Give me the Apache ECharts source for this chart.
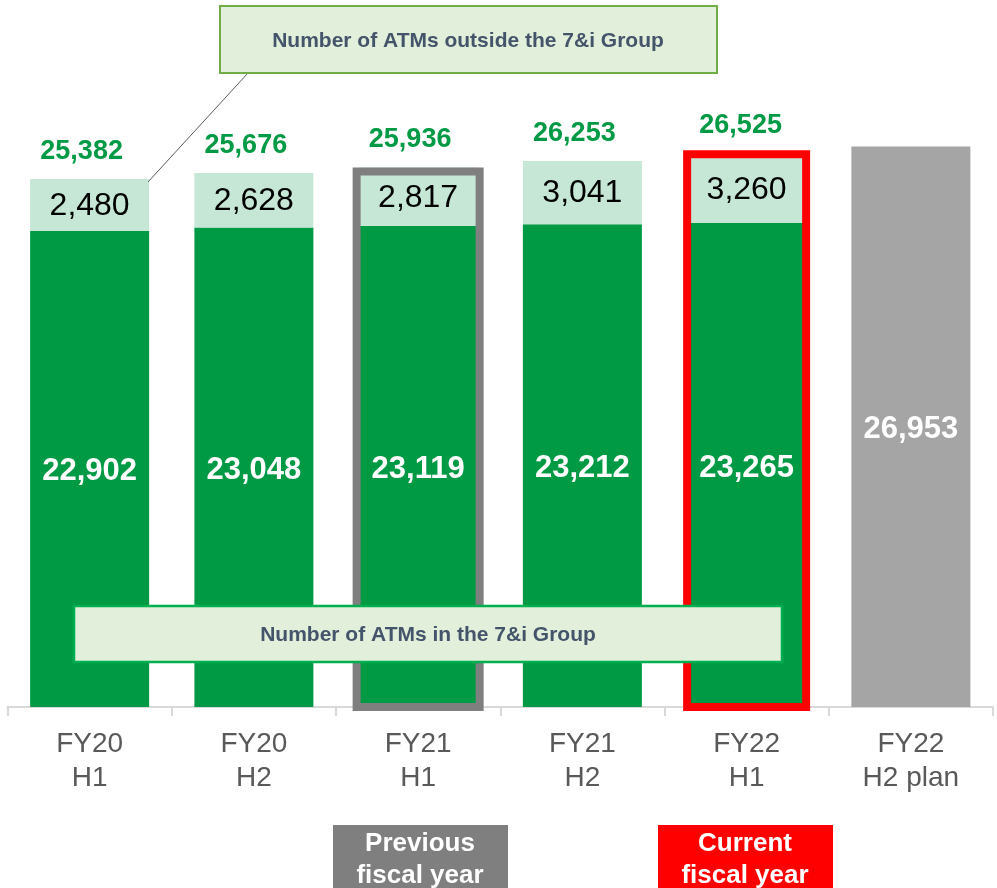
<!DOCTYPE html>
<html>
<head>
<meta charset="utf-8">
<script src="https://cdn.jsdelivr.net/npm/echarts@6/dist/echarts.min.js"></script>
<style>
  html, body { margin: 0; padding: 0; background: #fff; }
  #chart { width: 997px; height: 888px; }
</style>
</head>
<body>
<div id="chart"></div>
<script>
// datos
const categories = ['FY20\nH1', 'FY20\nH2', 'FY21\nH1', 'FY21\nH2', 'FY22\nH1', 'FY22\nH2 plan'];
const inGroup = [22902, 23048, 23119, 23212, 23265, null];
const outsideGroup = [2480, 2628, 2817, 3041, 3260, null];
const totals = [25382, 25676, 25936, 26253, 26525, null];
const plan = [null, null, null, null, null, 26953];
const highlighted = [2, 4]; // periodo anterior y periodo actual

const FONT = '"Liberation Sans", Arial, sans-serif';
const GREEN = '#009944';
const LIGHT_GREEN = '#c6e7d5';

const chart = echarts.init(document.getElementById('chart'));

// estilo de cada marco: color, ancho y ajuste vertical del borde superior
const frameStyle = [
    { color: '#7f7f7f', width: 123, dy: 4 },
    { color: '#ff0000', width: 119, dy: -1 }
];

const fmt = p => p.value.toLocaleString('en-US');
const toData = arr => arr.map(v => v == null ? '-' : v);

const option = {
    animation: false,
    textStyle: { fontFamily: FONT },
    grid: { left: 7.5, right: 4, top: 83, bottom: 181 },
    xAxis: {
        type: 'category',
        data: categories,
        axisLine: { lineStyle: { color: '#d9d9d9', width: 2 } },
        axisTick: { show: true, length: 9, lineStyle: { color: '#d9d9d9', width: 2 } },
        axisLabel: { color: '#595959', fontSize: 28, lineHeight: 34, margin: 20, fontFamily: FONT }
    },
    yAxis: { type: 'value', min: 0, max: 30000, show: false, splitLine: { show: false } },
    series: [
        {
            name: 'in group',
            type: 'bar',
            stack: 'a',
            barWidth: 119,
            barGap: '-100%',
            data: toData(inGroup),
            itemStyle: { color: GREEN },
            label: {
                show: true, position: 'inside', offset: [0, 3], color: '#fff', fontSize: 31,
                fontWeight: 'bold', fontFamily: FONT, formatter: fmt
            }
        },
        {
            name: 'outside group',
            type: 'bar',
            stack: 'a',
            barWidth: 119,
            barGap: '-100%',
            data: toData(outsideGroup),
            itemStyle: { color: LIGHT_GREEN },
            label: {
                show: true, position: 'inside', offset: [0, 1], color: '#000', fontSize: 32,
                fontFamily: FONT, formatter: fmt
            }
        },
        {
            name: 'plan',
            type: 'bar',
            stack: 'a',
            barWidth: 119,
            barGap: '-100%',
            data: toData(plan),
            itemStyle: { color: '#a5a5a5' },
            label: {
                show: true, position: 'inside', offset: [0, 3], color: '#fff', fontSize: 31,
                fontWeight: 'bold', fontFamily: FONT, formatter: fmt
            }
        },
        {
            name: 'total',
            type: 'bar',
            barWidth: 119,
            barGap: '-100%',
            data: totals.map((v, i) => {
                if (v == null) return '-';
                return i === 4 ? { value: v, label: { offset: [-6, -2] } } : v;
            }),
            itemStyle: { color: 'rgba(0,0,0,0)' },
            label: {
                show: true, position: 'top', distance: 14, offset: [-8, 0],
                color: GREEN, fontSize: 27, fontWeight: 'bold', fontFamily: FONT,
                formatter: fmt
            }
        },
        {
            // marcos de los periodos destacados
            name: 'frames',
            type: 'custom',
            z: 10,
            data: highlighted.map(i => [i, totals[i]]),
            renderItem: function (params, api) {
                const s = frameStyle[params.dataIndex];
                const top = api.coord([api.value(0), api.value(1)]);
                const base = api.coord([api.value(0), 0]);
                return {
                    type: 'rect',
                    shape: { x: top[0] - s.width / 2, y: top[1] + s.dy, width: s.width, height: base[1] - top[1] - s.dy },
                    style: { fill: 'none', stroke: s.color, lineWidth: 8 }
                };
            }
        }
    ],
    graphic: [
        // línea que une la etiqueta con la primera barra
        { type: 'line', z: 100, shape: { x1: 148, y1: 182, x2: 248, y2: 73 }, style: { stroke: '#595959', lineWidth: 1 } },
        { type: 'rect', z: 100, shape: { x: 220, y: 6, width: 497, height: 67 }, style: { fill: '#e2efda', stroke: '#70ad47', lineWidth: 2 } },
        {
            type: 'text', z: 101, x: 468, y: 41,
            style: { text: 'Number of ATMs outside the 7&i Group', fill: '#44546a', font: 'bold 21px ' + FONT, align: 'center', verticalAlign: 'middle' }
        },
        { type: 'rect', z: 100, shape: { x: 74, y: 606, width: 708, height: 56 }, style: { fill: '#e2efda', stroke: '#00b050', lineWidth: 2.5 } },
        {
            type: 'text', z: 101, x: 428, y: 635,
            style: { text: 'Number of ATMs in the 7&i Group', fill: '#44546a', font: 'bold 21px ' + FONT, align: 'center', verticalAlign: 'middle' }
        },
        { type: 'rect', z: 100, shape: { x: 333, y: 825, width: 175, height: 70 }, style: { fill: '#7f7f7f' } },
        {
            type: 'text', z: 101, x: 420, y: 860,
            style: { text: 'Previous\nfiscal year', fill: '#fff', font: 'bold 26px ' + FONT, lineHeight: 32, align: 'center', verticalAlign: 'middle' }
        },
        { type: 'rect', z: 100, shape: { x: 658, y: 825, width: 175, height: 70 }, style: { fill: '#ff0000' } },
        {
            type: 'text', z: 101, x: 745, y: 860,
            style: { text: 'Current\nfiscal year', fill: '#fff', font: 'bold 26px ' + FONT, lineHeight: 32, align: 'center', verticalAlign: 'middle' }
        }
    ]
};

chart.setOption(option);
</script>
</body>
</html>
